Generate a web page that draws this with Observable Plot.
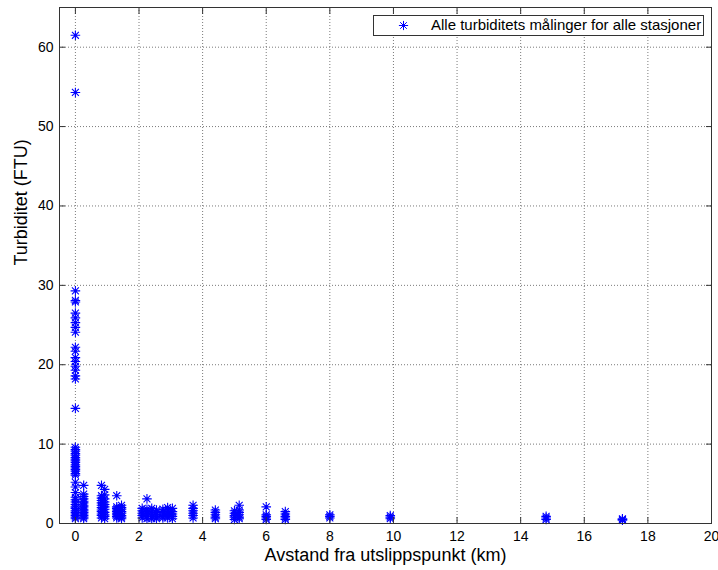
<!DOCTYPE html>
<html>
<head>
<meta charset="utf-8">
<script src="https://cdn.jsdelivr.net/npm/d3@7"></script>
<script src="https://cdn.jsdelivr.net/npm/@observablehq/plot@0.6"></script>
<style>
  html, body { margin: 0; padding: 0; background: #fff; }
  #wrap { position: relative; width: 718px; height: 570px; font-family: "Liberation Sans", Arial, sans-serif; }
  #legend { position: absolute; left: 373px; top: 15px; width: 329px; height: 19px; border: 1px solid #333; background: #fff; font-size: 15px; color: #000; }
  #legend svg { position: absolute; left: 24px; top: 4px; }
  #legend span { position: absolute; left: 57px; top: 0px; white-space: nowrap; }
</style>
</head>
<body>
<div id="wrap"></div>
<script>
// Station distances (km) and turbidity readings (FTU)
const km = [0, 0.26, 0.82, 0.92, 1.3, 1.45, 2.1, 2.25, 2.4, 2.55, 2.75, 2.9, 3.05, 3.7, 4.4, 5.0, 5.15, 6.0, 6.6, 8.0, 9.9, 14.8, 17.2];

const ftu_0 = [61.5, 54.3, 29.3, 28.1, 27.9, 26.5, 25.9, 25.3, 24.7, 24.1, 22.2, 21.7, 20.9, 20.4, 19.8, 19.3, 18.6, 18.2, 14.5, 9.6, 9.3, 9.1, 8.8, 8.6, 8.3, 8.1, 7.9, 7.7, 7.4, 7.2, 7.0, 6.8, 6.6, 6.3, 6.1, 5.2, 4.6, 3.9, 3.3, 3.0, 2.7, 2.4, 2.1, 1.9, 1.6, 1.4, 1.2, 1.0, 0.8, 0.6];
const ftu_026 = [4.8, 3.7, 3.4, 3.1, 2.8, 2.6, 2.3, 2.1, 1.8, 1.6, 1.4, 1.2, 1.0, 0.8, 0.6];
const ftu_082 = [4.8, 3.5, 3.2, 2.9, 2.6, 2.3, 2.0, 1.7, 1.5, 1.2, 1.0, 0.7];
const ftu_092 = [4.3, 3.6, 3.1, 2.7, 2.4, 2.1, 1.8, 1.4, 1.1, 0.9, 0.6];
const ftu_130 = [3.5, 2.1, 1.9, 1.7, 1.5, 1.3, 1.1, 0.9, 0.7];
const ftu_145 = [2.3, 2.0, 1.8, 1.5, 1.3, 1.0, 0.8, 0.6];
const ftu_210 = [1.9, 1.6, 1.3, 1.0, 0.7];
const ftu_225 = [3.1, 1.8, 1.5, 1.2, 0.9, 0.6];
const ftu_240 = [1.9, 1.6, 1.2, 0.9, 0.6];
const ftu_255 = [1.7, 1.4, 1.1, 0.8, 0.6];
const ftu_275 = [1.8, 1.5, 1.2, 0.9, 0.7];
const ftu_290 = [2.0, 1.6, 1.3, 1.0, 0.7];
const ftu_305 = [1.9, 1.5, 1.2, 0.9, 0.6];
const ftu_370 = [2.3, 1.9, 1.6, 1.3, 1.0, 0.7];
const ftu_440 = [1.7, 1.4, 1.1, 0.8, 0.6];
const ftu_500 = [1.6, 1.3, 1.0, 0.8, 0.5];
const ftu_515 = [2.3, 1.7, 1.4, 1.1, 0.8, 0.6];
const ftu_600 = [2.1, 1.1, 0.9, 0.7, 0.5];
const ftu_660 = [1.5, 1.2, 0.9, 0.7, 0.5];
const ftu_800 = [1.1, 0.9, 0.7];
const ftu_990 = [1.0, 0.8, 0.6];
const ftu_1480 = [0.9, 0.7, 0.5];
const ftu_1720 = [0.6, 0.5, 0.4];

const readings = [ftu_0, ftu_026, ftu_082, ftu_092, ftu_130, ftu_145, ftu_210, ftu_225, ftu_240, ftu_255,
  ftu_275, ftu_290, ftu_305, ftu_370, ftu_440, ftu_500, ftu_515, ftu_600, ftu_660, ftu_800, ftu_990, ftu_1480, ftu_1720];

const xTicks = [0, 2, 4, 6, 8, 10, 12, 14, 16, 18, 20];
const yTicks = [0, 10, 20, 30, 40, 50, 60];

const xLabel = "Avstand fra utslippspunkt (km)";
const yLabel = "Turbiditet (FTU)";
const legendLabel = "Alle turbiditets målinger for alle stasjoner";

const data = [];
km.forEach((k, i) => readings[i].forEach(v => data.push({km: k, ftu: v})));

// MATLAB-style asterisk marker (+ and x overlaid)
const asterisk = {
  draw(ctx, size) {
    const r = Math.sqrt(size / Math.PI);
    const d = r * 0.72;
    ctx.moveTo(-r, 0); ctx.lineTo(r, 0);
    ctx.moveTo(0, -r); ctx.lineTo(0, r);
    ctx.moveTo(-d, -d); ctx.lineTo(d, d);
    ctx.moveTo(-d, d); ctx.lineTo(d, -d);
  }
};

const font = "Liberation Sans, Arial, sans-serif";
const axisColor = "#333";
const gridStyle = {stroke: "#7a7a7a", strokeOpacity: 1, strokeDasharray: "1,2", strokeWidth: 1};

const chart = Plot.plot({
  width: 718,
  height: 570,
  marginLeft: 59,
  marginRight: 7,
  marginTop: 7,
  marginBottom: 47,
  style: {fontFamily: font, fontSize: "14px", color: "#000", background: "#fff"},
  x: {domain: [-0.5, 20]},
  y: {domain: [0, 65]},
  marks: [
    Plot.gridX(xTicks, gridStyle),
    Plot.gridY(yTicks, gridStyle),
    Plot.dot(data, {x: "km", y: "ftu", symbol: asterisk, r: 4.8, stroke: "#0000ff", fill: "none", strokeWidth: 1.1}),
    Plot.frame({stroke: axisColor, strokeWidth: 1}),
    Plot.axisX(xTicks, {anchor: "bottom", tickSize: -6, tickPadding: 14, stroke: axisColor, fontSize: 14, label: null}),
    Plot.axisX(xTicks, {anchor: "top", tickSize: -6, tickFormat: () => "", stroke: axisColor, label: null}),
    Plot.axisY(yTicks, {anchor: "left", tickSize: -6, tickPadding: 12, stroke: axisColor, fontSize: 14, label: null}),
    Plot.axisY(yTicks, {anchor: "right", tickSize: -6, tickFormat: () => "", stroke: axisColor, label: null}),
    Plot.text([xLabel], {frameAnchor: "bottom", dy: 37, fontSize: 18, fill: "#000"}),
    Plot.text([yLabel], {frameAnchor: "left", dx: -38, rotate: -90, fontSize: 18, fill: "#000"})
  ]
});

const wrap = document.getElementById("wrap");
wrap.appendChild(chart);

const legend = document.createElement("div");
legend.id = "legend";
legend.innerHTML = `<svg width="11" height="11" viewBox="-5.5 -5.5 11 11"><path d="M-4.6,0L4.6,0M0,-4.6L0,4.6M-3.3,-3.3L3.3,3.3M-3.3,3.3L3.3,-3.3" stroke="#0000ff" stroke-width="1" fill="none"/></svg><span></span>`;
legend.querySelector("span").textContent = legendLabel;
wrap.appendChild(legend);
</script>
</body>
</html>
